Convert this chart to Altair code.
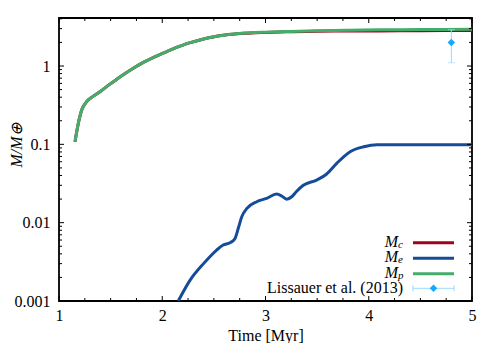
import altair as alt
import pandas as pd

# ---- data ----
mp_t = [1.155, 1.187, 1.22, 1.268, 1.33, 1.397, 1.48, 1.559, 1.64, 1.72, 1.80, 1.88, 1.96, 2.04,
        2.12, 2.20, 2.28, 2.365, 2.45, 2.527, 2.61, 2.69, 2.80, 2.90, 3.0, 3.2, 3.5, 3.8, 4.1, 4.5, 5.0]
mp_m = [0.108, 0.185, 0.274, 0.35, 0.41, 0.47, 0.57, 0.676, 0.80, 0.934, 1.08, 1.22, 1.37, 1.52,
        1.69, 1.85, 2.0, 2.15, 2.29, 2.40, 2.49, 2.56, 2.63, 2.67, 2.70, 2.75, 2.82, 2.87, 2.90, 2.92, 2.94]

mc_t = [1.155, 1.187, 1.22, 1.268, 1.33, 1.397, 1.48, 1.559, 1.64, 1.72, 1.80, 1.88, 1.96, 2.04,
        2.12, 2.20, 2.28, 2.365, 2.45, 2.527, 2.61, 2.69, 2.80, 2.90, 3.0, 3.2, 3.5, 3.8, 4.1, 4.5, 5.0]
mc_m = [0.108, 0.185, 0.274, 0.35, 0.41, 0.47, 0.57, 0.676, 0.80, 0.934, 1.08, 1.22, 1.37, 1.52,
        1.69, 1.85, 2.0, 2.15, 2.29, 2.40, 2.49, 2.55, 2.62, 2.65, 2.68, 2.73, 2.785, 2.79, 2.80, 2.82, 2.84]

me_t = [2.155, 2.27, 2.40, 2.527, 2.59, 2.656, 2.705, 2.74, 2.77, 2.82, 2.915, 3.01, 3.108, 3.157,
        3.205, 3.254, 3.30, 3.366, 3.495, 3.59, 3.69, 3.82, 3.95, 4.08, 4.3, 4.6, 5.0]
me_m = [0.001, 0.00185, 0.0030, 0.00447, 0.00518, 0.00554, 0.0063, 0.0088, 0.0119, 0.0152, 0.0185,
        0.0204, 0.0232, 0.0219, 0.0199, 0.0214, 0.025, 0.030, 0.035, 0.0415, 0.0572, 0.0805, 0.093,
        0.099, 0.099, 0.099, 0.099]

obs_t = [4.8]
obs_m = [2.0]
obs_lo = [1.1]
obs_hi = [2.9]

series_labels = ["c", "e", "p"]
series_colors = ["#a3001b", "#154c98", "#45ad6b"]
obs_label = "Lissauer et al. (2013)"
obs_color = "#14a8ff"
obs_err_color = "#9bd9ff"

x_major = [1, 2, 3, 4, 5]
x_minor = [1.25, 1.5, 1.75, 2.25, 2.5, 2.75, 3.25, 3.5, 3.75, 4.25, 4.5, 4.75]
y_major = [0.001, 0.01, 0.1, 1]
y_minor = [0.002, 0.003, 0.004, 0.005, 0.006, 0.007, 0.008, 0.009,
           0.02, 0.03, 0.04, 0.05, 0.06, 0.07, 0.08, 0.09,
           0.2, 0.3, 0.4, 0.5, 0.6, 0.7, 0.8, 0.9, 2, 3, 4]

# ---- layout ----
W, H = 413, 283
FONT = "Liberation Serif"

x_scale = alt.Scale(domain=[1, 5], nice=False, zero=False)
y_scale = alt.Scale(type="log", domain=[0.001, 4.1], nice=False)

axis_style = dict(labelFont=FONT, labelFontSize=16, labelColor="black", labelFlush=False,
                  titleFont=FONT, titleFontSize=16, titleColor="black",
                  titleFontWeight="normal", ticks=False, domain=False, grid=False)

x_axis = alt.Axis(values=x_major, format="d", labelPadding=6, title="Time [Myr]",
                  titleY=26, titleBaseline="top", **axis_style)
y_axis = alt.Axis(values=y_major, format="~g", labelPadding=9, title="M/M⊕",
                  titleX=-43, titleY=127, titleAngle=270, titleAlign="center",
                  titleBaseline="middle", titleFontStyle="italic", **axis_style)


def X():
    return alt.X("t:Q", scale=x_scale, axis=x_axis)


def Y(field="m"):
    return alt.Y(f"{field}:Q", scale=y_scale, axis=y_axis)


layers = []

curves = [(mc_t, mc_m), (me_t, me_m), (mp_t, mp_m)]
for (tt, mm), col in zip(curves, series_colors):
    df = pd.DataFrame({"t": tt, "m": mm})
    layers.append(
        alt.Chart(df).mark_line(color=col, strokeWidth=3, interpolate="monotone", clip=True)
        .encode(x=X(), y=Y("m"))
    )

# observation with error bar
obs = pd.DataFrame({"t": obs_t, "m": obs_m, "lo": obs_lo, "hi": obs_hi})
layers.append(alt.Chart(obs).mark_rule(color=obs_err_color, strokeWidth=1).encode(
    x=X(), y=Y("lo"), y2="hi:Q"))
for f in ["lo", "hi"]:
    layers.append(alt.Chart(obs).mark_tick(color=obs_err_color, orient="horizontal", size=7,
                                           thickness=1).encode(x=X(), y=Y(f)))
layers.append(alt.Chart(obs).mark_point(shape="diamond", filled=True, size=55, opacity=1,
                                        color=obs_color).encode(x=X(), y=Y("m")))


# inward ticks on all four sides
def xticks(vals, length):
    d = pd.DataFrame({"t": vals})
    return [
        alt.Chart(d).mark_rule(color="black", strokeWidth=1).encode(
            x=X(), y=alt.value(H), y2=alt.value(H - length)),
        alt.Chart(d).mark_rule(color="black", strokeWidth=1).encode(
            x=X(), y=alt.value(0), y2=alt.value(length)),
    ]


def yticks(vals, length):
    d = pd.DataFrame({"m": vals})
    return [
        alt.Chart(d).mark_rule(color="black", strokeWidth=1).encode(
            y=Y("m"), x=alt.value(0), x2=alt.value(length)),
        alt.Chart(d).mark_rule(color="black", strokeWidth=1).encode(
            y=Y("m"), x=alt.value(W), x2=alt.value(W - length)),
    ]


layers += xticks(x_major, 5) + xticks(x_minor, 3) + yticks(y_major, 5) + yticks(y_minor, 3)

# manual legend (bottom right, labels left of the samples)
one = pd.DataFrame({"a": [0]})
leg_y = [224.7, 240.3, 255.7]
lx1, lx2, tx = 354, 395, 339
for sub, col, yy in zip(series_labels, series_colors, leg_y):
    layers.append(alt.Chart(one).mark_rule(color=col, strokeWidth=3).encode(
        x=alt.value(lx1), x2=alt.value(lx2), y=alt.value(yy)))
    layers.append(alt.Chart(one).mark_text(text="M", align="right", baseline="alphabetic",
                                           font=FONT, fontSize=16, fontStyle="italic",
                                           color="black").encode(
        x=alt.value(tx), y=alt.value(yy + 4)))
    layers.append(alt.Chart(one).mark_text(text=sub, align="left", baseline="alphabetic",
                                           font=FONT, fontSize=11, fontStyle="italic",
                                           color="black").encode(
        x=alt.value(tx), y=alt.value(yy + 5)))

oy = 270.3
layers.append(alt.Chart(one).mark_rule(color=obs_err_color, strokeWidth=1).encode(
    x=alt.value(lx1), x2=alt.value(lx2), y=alt.value(oy)))
for xx in [lx1, lx2]:
    layers.append(alt.Chart(one).mark_rule(color=obs_err_color, strokeWidth=1).encode(
        x=alt.value(xx), y=alt.value(oy - 3), y2=alt.value(oy + 3)))
layers.append(alt.Chart(one).mark_point(shape="diamond", filled=True, size=55, opacity=1,
                                        color=obs_color).encode(
    x=alt.value((lx1 + lx2) / 2), y=alt.value(oy)))
layers.append(alt.Chart(one).mark_text(text=obs_label, align="right", baseline="alphabetic",
                                       font=FONT, fontSize=16, color="black").encode(
    x=alt.value(tx + 5), y=alt.value(oy + 5)))

chart = alt.layer(*layers).properties(
    width=W, height=H, autosize="none",
    padding={"left": 51, "top": 10, "right": 20, "bottom": 42},
    background="white",
).configure_view(stroke="black", strokeWidth=1.8)

chart.save("out.html", embed_options={"renderer": "svg", "actions": False})
